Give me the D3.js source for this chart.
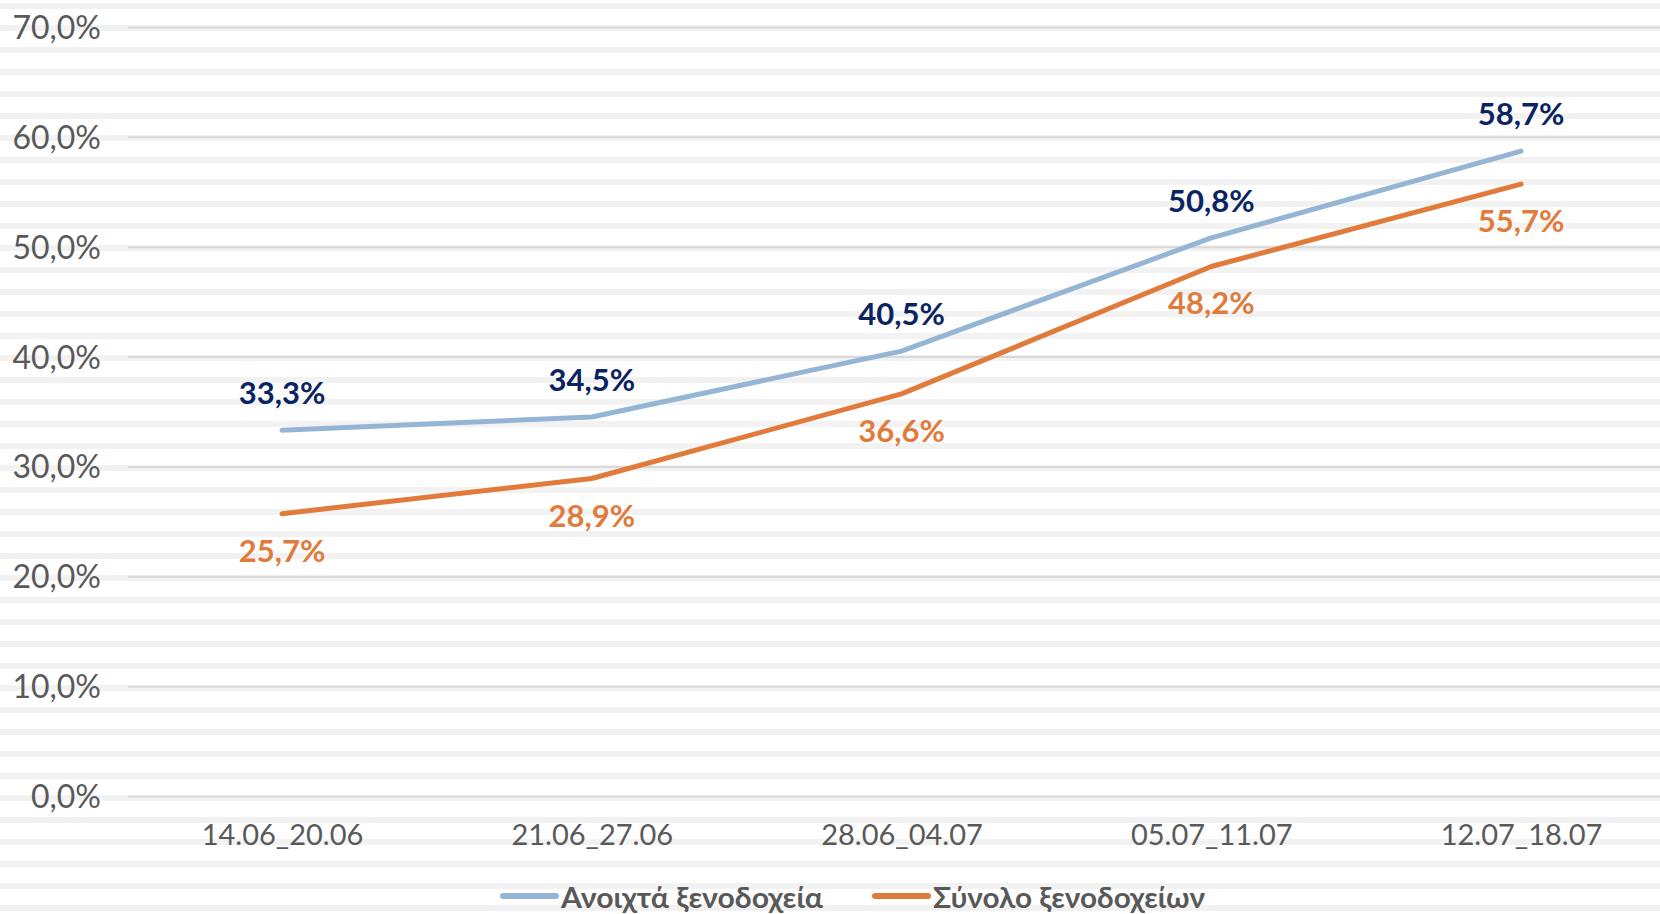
<!DOCTYPE html>
<html>
<head>
<meta charset="utf-8">
<script src="https://cdn.jsdelivr.net/npm/d3@7"></script>
<style>
  html, body { margin: 0; padding: 0; background: #fff; }
  svg { display: block; }
</style>
</head>
<body>
<div id="chart"></div>
<script>
// weekly periods
const weeks = ['14.06_20.06', '21.06_27.06', '28.06_04.07', '05.07_11.07', '12.07_18.07'];
// occupancy, %
const openHotels = [33.3, 34.5, 40.5, 50.8, 58.7];
const allHotels = [25.7, 28.9, 36.6, 48.2, 55.7];
const seriesNames = ['Ανοιχτά ξενοδοχεία', 'Σύνολο ξενοδοχείων'];
const yTicks = [0, 10, 20, 30, 40, 50, 60, 70];

const width = 1660, height = 914;
const blue = '#94b6d4', orange = '#e07b3c';
const navy = '#0b2461', grey = '#595959';

const fmt = v => v.toFixed(1).replace('.', ',') + '%';

const svg = d3.select('#chart').append('svg')
  .attr('width', width)
  .attr('height', height);

// striped background
svg.append('g').attr('class', 'stripes')
  .selectAll('rect')
  .data(d3.range(3, height, 22))
  .join('rect')
  .attr('x', 0).attr('y', d => d)
  .attr('width', width).attr('height', 6)
  .attr('fill', '#f2f2f2');

const x = d3.scalePoint()
  .domain(weeks)
  .range([282, 1521]);

const y = d3.scaleLinear()
  .domain([0, 70])
  .range([796, 27]);

// gridlines + y labels
const yAxis = d3.axisLeft(y)
  .tickValues(yTicks)
  .tickSize(-(width - 128))
  .tickPadding(27)
  .tickFormat(fmt);

svg.append('g')
  .attr('class', 'y axis')
  .attr('transform', 'translate(128,0)')
  .call(yAxis)
  .call(g => g.select('.domain').remove())
  .call(g => g.selectAll('.tick line').attr('stroke', '#d9d9d9').attr('stroke-width', 2))
  .call(g => g.selectAll('.tick text')
    .attr('fill', grey)
    .attr('dy', '0.36em')
    .style('font-family', 'Lato, "Noto Sans", sans-serif')
    .style('font-size', '32px'));

// x labels
const xAxis = d3.axisBottom(x)
  .tickSize(0)
  .tickPadding(0);

svg.append('g')
  .attr('class', 'x axis')
  .attr('transform', 'translate(0,823)')
  .call(xAxis)
  .call(g => g.select('.domain').remove())
  .call(g => g.selectAll('.tick text')
    .attr('fill', grey)
    .attr('dy', 0)
    .attr('y', 22)
    .style('font-family', 'Lato, "Open Sans", sans-serif')
    .style('font-size', '29px'));

const line = d3.line()
  .x((d, i) => x(weeks[i]))
  .y(d => y(d));

const series = [
  { name: seriesNames[0], values: openHotels, color: blue, labelColor: navy, dy: -26 },
  { name: seriesNames[1], values: allHotels, color: orange, labelColor: orange, dy: 48 }
];

const plot = svg.append('g').attr('class', 'time-series');

plot.selectAll('.line')
  .data(series)
  .join('path')
  .attr('class', 'line')
  .attr('fill', 'none')
  .attr('stroke', d => d.color)
  .attr('stroke-width', 5)
  .attr('stroke-linecap', 'round')
  .attr('stroke-linejoin', 'round')
  .attr('d', d => line(d.values));

series.forEach(s => {
  plot.append('g').selectAll('text')
    .data(s.values)
    .join('text')
    .attr('x', (d, i) => x(weeks[i]))
    .attr('y', d => y(d) + s.dy)
    .attr('text-anchor', 'middle')
    .attr('fill', s.labelColor)
    .style('font-family', 'Lato, "Open Sans", sans-serif')
    .style('font-weight', 'bold')
    .style('font-size', '31px')
    .text(fmt);
});

// legend
const legend = svg.append('g').attr('class', 'legend');
const legendItems = [
  { x: 503, color: blue, text: seriesNames[0], len: 262 },
  { x: 875, color: orange, text: seriesNames[1], len: 272 }
];
legendItems.forEach(l => {
  legend.append('line')
    .attr('x1', l.x).attr('x2', l.x + 53)
    .attr('y1', 896).attr('y2', 896)
    .attr('stroke', l.color)
    .attr('stroke-width', 6)
    .attr('stroke-linecap', 'round');
  legend.append('text')
    .attr('x', l.x + 58)
    .attr('y', 908)
    .attr('fill', grey)
    .attr('textLength', l.len)
    .attr('lengthAdjust', 'spacingAndGlyphs')
    .style('font-family', 'Lato, "Open Sans", sans-serif')
    .style('font-weight', 'bold')
    .style('font-size', '29px')
    .text(l.text);
});
</script>
</body>
</html>
